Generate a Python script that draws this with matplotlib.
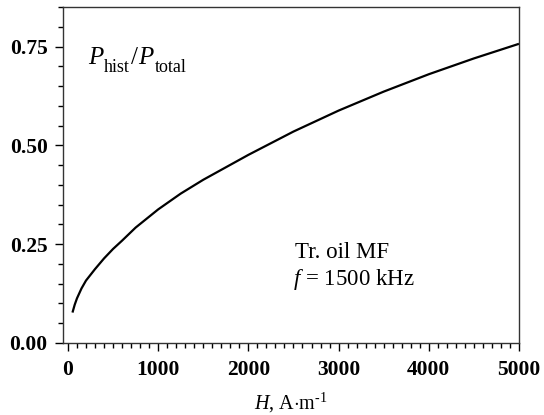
import matplotlib.pyplot as plt
from matplotlib.ticker import MultipleLocator

# values
field_h = [50, 75, 100, 150, 200, 300, 400, 500, 600, 750, 1000, 1250, 1500,
           2000, 2500, 3000, 3500, 4000, 4500, 5000]
p_ratio = [0.077, 0.097, 0.113, 0.138, 0.158, 0.187, 0.214, 0.238, 0.259, 0.292,
           0.338, 0.378, 0.413, 0.476, 0.535, 0.588, 0.636, 0.680, 0.720, 0.757]
y_ticks = [0.00, 0.25, 0.50, 0.75]
x_ticks = [0, 1000, 2000, 3000, 4000, 5000]

plt.rcParams['font.family'] = 'Liberation Serif'
plt.rcParams['mathtext.fontset'] = 'custom'
plt.rcParams['mathtext.rm'] = 'Liberation Serif'
plt.rcParams['mathtext.it'] = 'Liberation Serif:italic'

fig = plt.figure(figsize=(5.44, 4.15), dpi=100)
ax = fig.add_axes([0.1158, 0.1735, 0.954 - 0.1158, 0.983 - 0.1735])

ax.plot(field_h, p_ratio, color='black', linewidth=1.6, solid_capstyle='butt')

ax.set_xlim(-55, 5000)
ax.set_ylim(0, 0.85)
ax.set_xticks(x_ticks)
ax.set_yticks(y_ticks)
ax.set_yticklabels([f'{v:.2f}' for v in y_ticks])
ax.xaxis.set_minor_locator(MultipleLocator(100))
ax.yaxis.set_minor_locator(MultipleLocator(0.05))
ax.tick_params(which='major', direction='out', length=6, width=1, labelsize=15.5, pad=5)
ax.tick_params(which='minor', direction='out', length=3.5, width=1)
ax.tick_params(axis='x', which='major', pad=6)
for lab in ax.get_xticklabels() + ax.get_yticklabels():
    lab.set_fontweight('bold')
for sp in ax.spines.values():
    sp.set_linewidth(1)
    sp.set_color('#333333')

ax.set_xlabel(r'$H$, A$\cdot$m$^{\text{-1}}$', fontsize=14.5, labelpad=8)

# P_hist / P_total label, built piece by piece
t1 = ax.text(225, 0.707, 'P', fontsize=18, style='italic', va='baseline')
t2 = ax.annotate('hist', xy=(1, 0), xycoords=t1, xytext=(0.5, -5),
                 textcoords='offset points', va='bottom', fontsize=13)
t3 = ax.annotate('/', xy=(1, 0), xycoords=t2, xytext=(1, 5),
                 textcoords='offset points', va='bottom', fontsize=18)
t4 = ax.annotate('P', xy=(1, 0), xycoords=t3, xytext=(0, 0),
                 textcoords='offset points', va='bottom', fontsize=18, style='italic')
ax.annotate('total', xy=(1, 0), xycoords=t4, xytext=(0.5, -5),
            textcoords='offset points', va='bottom', fontsize=13)

ax.text(2520, 0.215, 'Tr. oil MF', fontsize=16.5, va='baseline')
ax.text(2490, 0.146, r'$f$ = 1500 kHz', fontsize=16.5, va='baseline')

fig.savefig('out.png', dpi=100)
